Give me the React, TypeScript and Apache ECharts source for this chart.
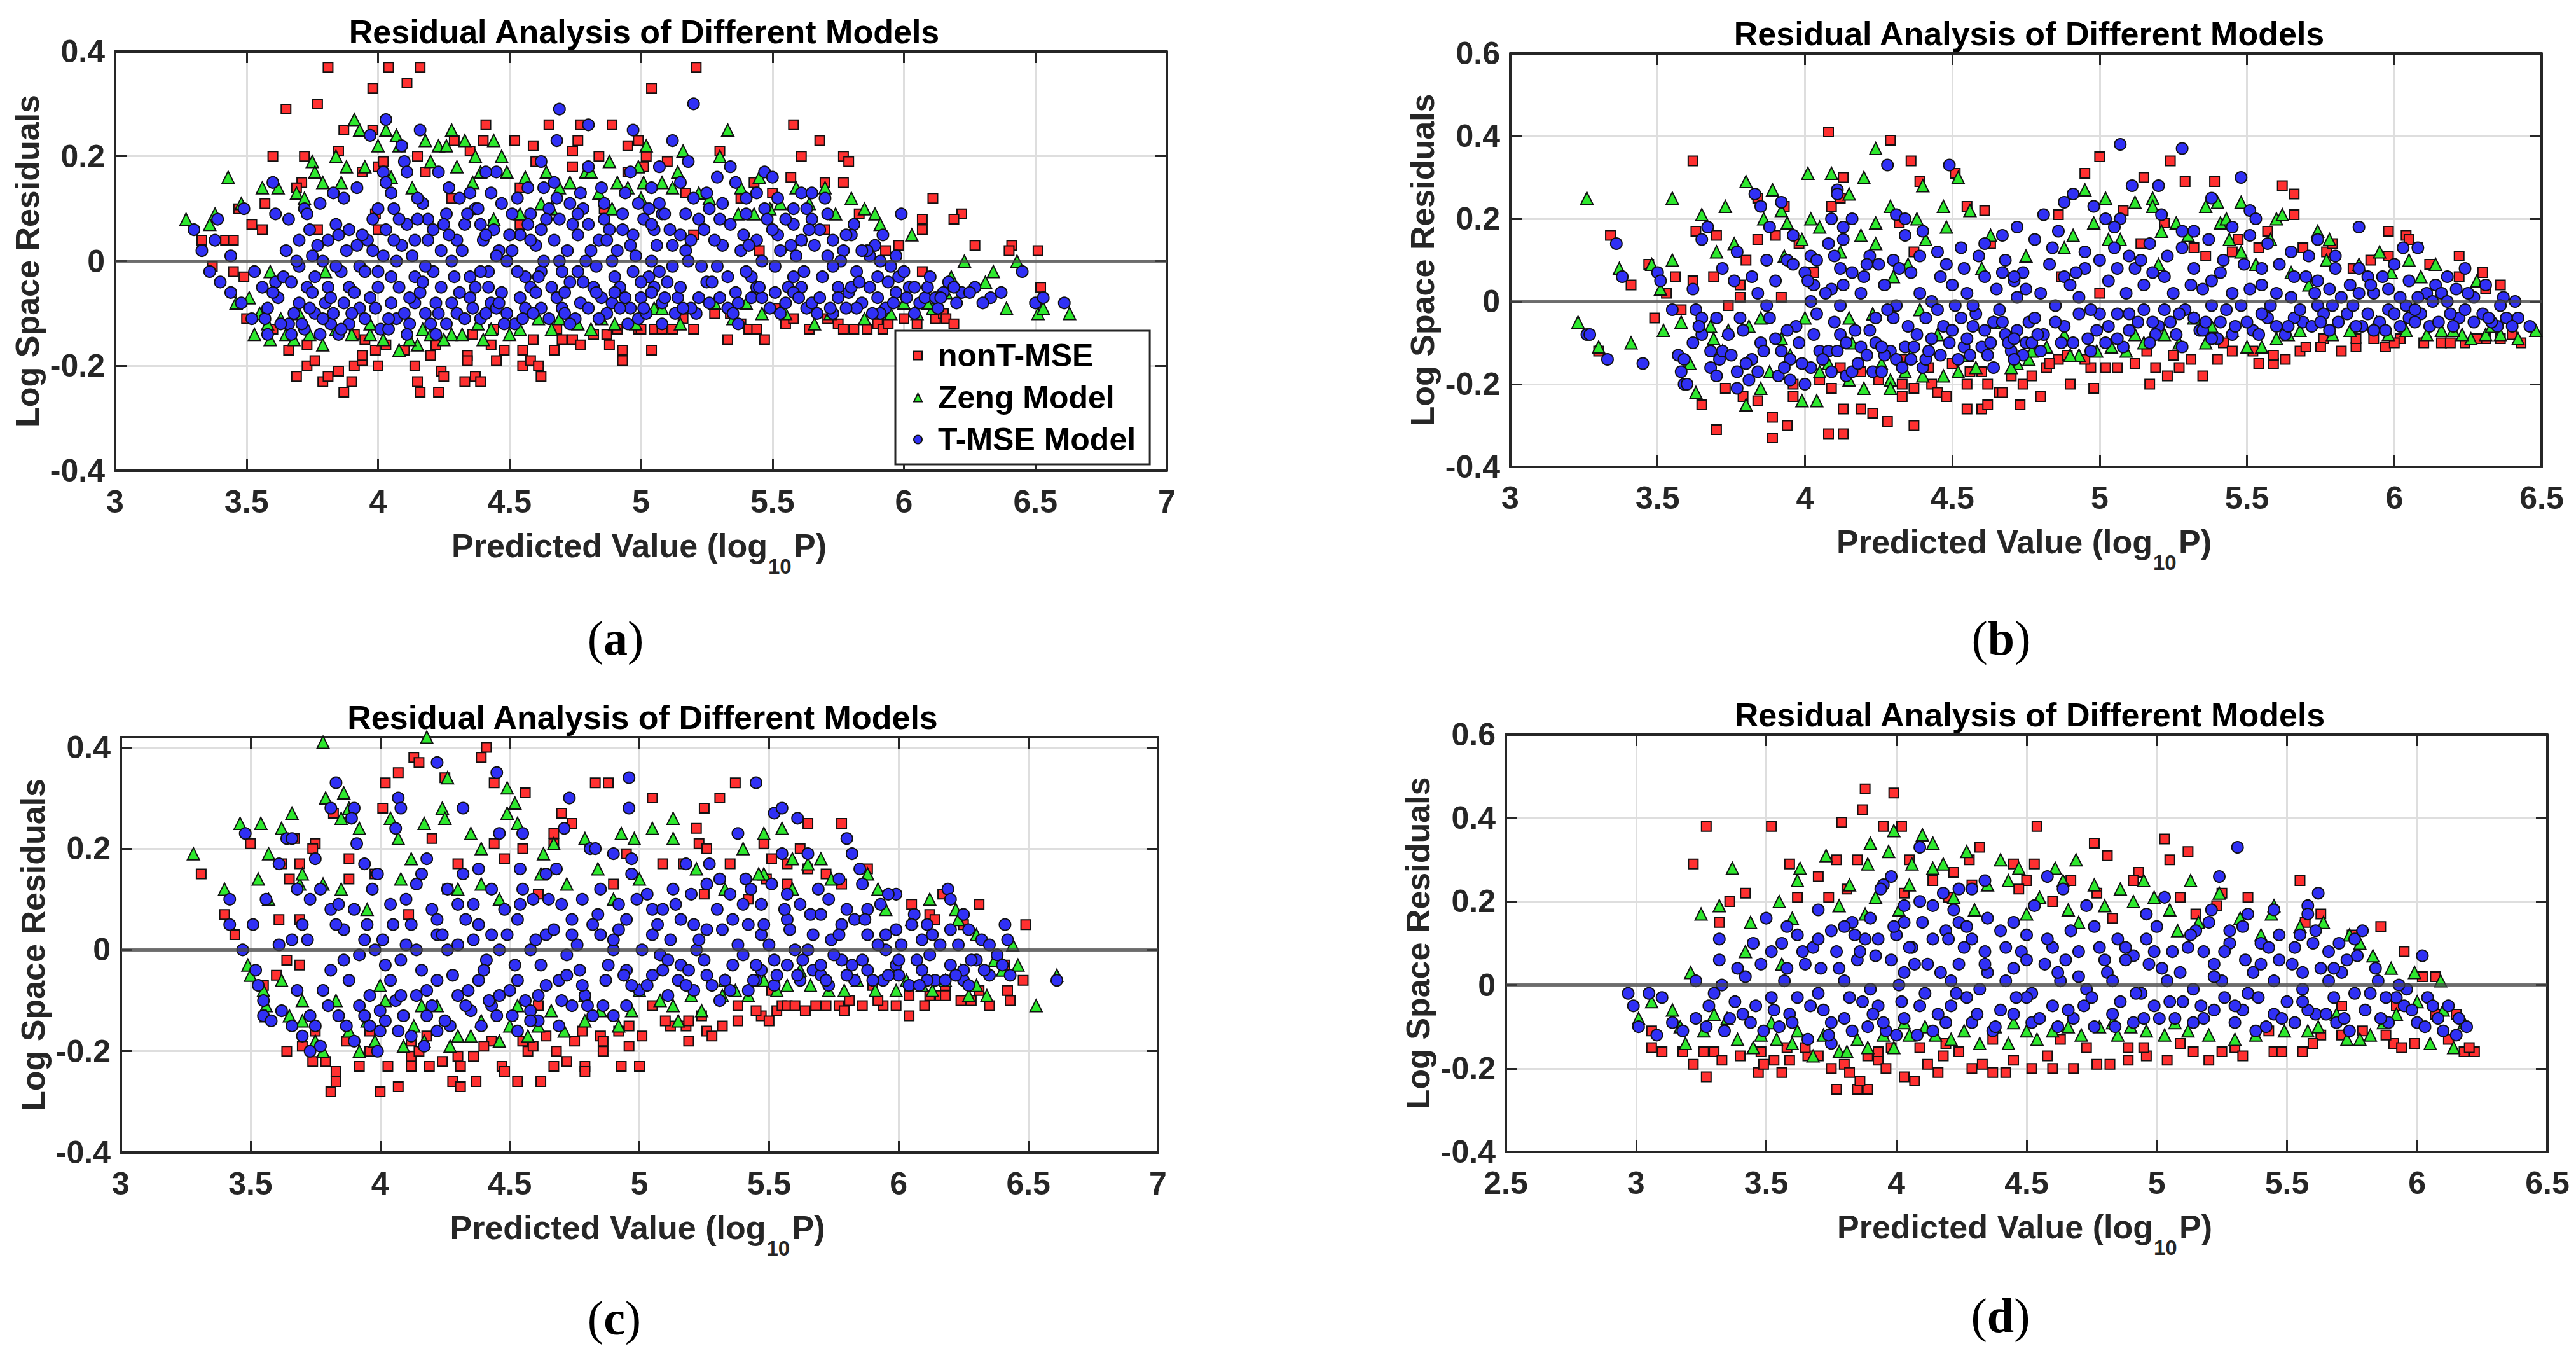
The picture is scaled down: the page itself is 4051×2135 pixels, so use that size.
import { useEffect, useRef } from "react";
import * as echarts from "echarts";

// residual points, flat lists of [predicted, residual] pairs
const aRed = [
  3.81,0.37, 4.04,0.37, 4.16,0.37, 3.98,0.33, 4.11,0.34, 3.65,0.29, 3.77,0.30, 5.04,0.33, 5.21,0.37, 3.87,0.25, 3.98,0.25,
  4.41,0.26, 4.65,0.26, 4.77,0.26, 4.89,0.26, 4.40,0.23, 4.52,0.23, 4.29,0.23, 4.76,0.23, 4.59,0.22, 4.35,0.21, 4.74,0.21,
  4.99,0.23, 5.02,0.20, 3.60,0.20, 3.72,0.20, 3.85,0.21, 4.00,0.18, 4.02,0.19, 3.94,0.17, 4.18,0.17, 3.71,0.15, 3.69,0.14,
  4.95,0.17, 5.01,0.18, 3.57,0.11, 3.47,0.10, 3.52,0.07, 3.56,0.06, 3.42,0.04, 3.45,0.04, 3.33,0.04, 3.77,0.06, 4.00,0.06,
  4.44,0.07, 4.54,0.07, 3.37,-0.01, 3.45,-0.02, 3.49,-0.03, 3.99,0.09, 4.54,0.14, 4.77,0.13, 4.74,0.18, 4.28,0.12, 4.86,0.10,
  5.20,0.05, 5.45,0.02, 5.70,0.06, 4.95,0.22, 5.10,0.19, 4.60,0.19, 4.15,0.20, 4.84,0.20, 5.50,0.13,
  3.50,-0.11, 3.66,-0.17, 3.73,-0.16, 3.69,-0.22, 3.73,-0.20, 3.76,-0.19, 3.79,-0.23, 3.81,-0.22, 3.85,-0.21, 3.87,-0.25,
  3.90,-0.23, 3.91,-0.20, 3.94,-0.19, 3.94,-0.18, 4.00,-0.20, 3.99,-0.17, 4.03,-0.16, 4.14,-0.20, 4.15,-0.23, 4.16,-0.25,
  4.23,-0.25, 4.24,-0.21, 4.25,-0.22, 4.33,-0.23, 4.34,-0.18, 4.34,-0.19, 4.37,-0.22, 4.39,-0.23, 4.43,-0.16, 4.45,-0.19,
  4.55,-0.20, 4.58,-0.19, 4.61,-0.20, 4.62,-0.22, 4.55,-0.17, 4.59,-0.15, 4.67,-0.17, 4.74,-0.15, 4.77,-0.16, 4.87,-0.14,
  4.88,-0.16, 4.93,-0.17, 4.93,-0.19, 4.91,-0.13, 5.04,-0.17, 5.05,-0.13, 4.99,-0.13, 4.68,-0.13, 4.44,-0.13, 4.36,-0.14,
  4.22,-0.16, 4.10,-0.17, 3.91,-0.14, 3.81,-0.11, 3.60,-0.13, 3.95,-0.15, 4.20,-0.18, 4.48,-0.17, 4.70,-0.15, 4.82,-0.14,
  5.20,-0.13, 5.38,-0.12, 5.55,-0.12, 5.75,-0.12, 5.90,-0.12, 6.05,-0.12, 6.12,-0.11,
  5.58,0.26, 5.68,0.23, 5.61,0.20, 5.77,0.20, 5.79,0.19, 5.30,0.21, 5.57,0.16, 5.70,0.15, 5.77,0.15, 5.43,0.15, 5.38,0.12,
  5.17,0.13, 6.11,0.12, 6.22,0.09, 6.19,0.08, 6.07,0.08, 6.07,0.06, 5.83,0.09, 5.98,0.03, 5.93,0.02, 6.27,0.03, 6.41,0.03,
  6.40,0.02, 6.51,0.02, 5.48,0.10, 5.61,0.04,
  5.33,-0.15, 5.47,-0.15, 5.41,-0.13, 5.44,-0.13, 5.08,-0.13, 5.12,-0.13, 5.00,-0.13, 5.16,-0.11, 5.28,-0.10, 5.34,-0.10,
  5.51,-0.09, 5.58,-0.11, 5.64,-0.13, 5.71,-0.11, 5.77,-0.13, 5.81,-0.13, 5.86,-0.13, 5.92,-0.13, 5.94,-0.12, 6.00,-0.11,
  6.15,-0.10, 6.16,-0.11, 6.19,-0.12, 6.52,-0.05, 6.07,-0.02,
];
const aGreen = [
  3.27,0.08, 3.38,0.09, 3.36,0.07, 3.43,0.16, 3.48,0.11, 3.56,0.14, 3.62,0.14, 3.69,0.13, 3.75,0.19, 3.76,0.17, 3.79,0.15,
  3.84,0.20, 3.88,0.18, 3.91,0.27, 3.93,0.25, 4.00,0.22, 4.03,0.25, 4.07,0.24, 4.08,0.22, 4.18,0.23, 4.23,0.22, 4.26,0.22,
  4.28,0.25, 4.33,0.23, 4.37,0.20, 4.44,0.23, 4.39,0.17, 4.49,0.17, 4.64,0.17, 4.73,0.15, 4.79,0.17, 4.81,0.17, 4.91,0.15,
  5.01,0.15, 5.02,0.22, 4.62,0.11, 4.66,0.10, 4.84,0.13, 4.89,0.10, 4.95,0.14, 5.00,0.12, 4.54,0.09, 4.44,0.08,
  3.72,0.12, 3.86,0.15, 3.95,0.18, 4.05,0.16, 4.13,0.14, 4.20,0.19, 4.30,0.18, 4.36,0.15, 4.47,0.20, 4.56,0.16, 4.69,0.14,
  4.88,0.19, 4.99,0.18, 5.14,0.17, 5.45,0.16, 5.64,0.11, 5.85,0.10,
  3.46,-0.08, 3.51,-0.07, 3.59,-0.15, 3.53,-0.14, 3.58,-0.12, 3.65,-0.14, 3.74,-0.14, 3.79,-0.16, 3.84,-0.13, 3.90,-0.14,
  3.97,-0.14, 4.08,-0.17, 4.15,-0.16, 4.12,-0.15, 4.17,-0.13, 4.28,-0.14, 4.32,-0.14, 4.43,-0.13, 4.54,-0.13, 4.61,-0.11,
  4.69,-0.11, 4.76,-0.12, 4.85,-0.11, 4.90,-0.12, 5.05,-0.09, 4.38,-0.12, 3.97,-0.12, 4.25,-0.15, 3.59,-0.02, 3.80,-0.02,
  3.70,-0.10, 3.55,-0.10, 3.63,-0.11, 3.68,-0.15, 4.02,-0.15, 4.20,-0.14, 4.40,-0.15, 4.50,-0.14, 4.66,-0.13, 4.81,-0.13,
  4.98,-0.12, 5.15,-0.12, 5.35,-0.11, 5.55,-0.10, 5.66,-0.12, 5.85,-0.11, 5.95,-0.10, 6.11,-0.09,
  5.33,0.25, 5.16,0.21, 5.30,0.20, 5.08,0.15, 5.12,0.14, 5.22,0.13, 5.26,0.12, 5.38,0.14, 5.53,0.11, 5.59,0.14, 5.70,0.14,
  5.80,0.12, 5.89,0.09, 5.91,0.07, 5.74,0.09, 5.43,0.09, 5.37,0.09, 5.49,0.10, 6.03,0.05, 6.23,0.00, 6.43,0.00, 6.34,-0.02,
  6.31,-0.04, 6.18,-0.03, 6.39,-0.09, 6.51,-0.10, 6.53,-0.09, 6.63,-0.10, 6.09,-0.08, 6.05,-0.10, 6.00,-0.08, 5.72,-0.10,
  5.46,-0.10, 5.40,-0.08, 5.28,-0.08, 5.08,-0.09, 6.16,-0.06,
];
const aBlue = [
  4.69,0.29, 4.03,0.27, 4.16,0.25, 4.80,0.26, 4.97,0.25, 3.97,0.24, 4.09,0.22, 4.10,0.19, 4.11,0.17, 4.68,0.23, 4.62,0.19,
  4.67,0.15, 5.07,0.18, 4.80,0.18, 4.96,0.17, 4.45,0.17, 4.41,0.17, 4.23,0.17, 4.02,0.17, 4.03,0.15, 3.92,0.14, 3.83,0.13,
  3.60,0.15, 3.72,0.10, 3.73,0.09, 3.61,0.09, 3.49,0.10, 3.39,0.08, 3.30,0.06, 3.33,0.02, 3.38,0.04, 3.44,0.01, 3.36,-0.02,
  3.40,-0.04, 3.44,-0.06, 3.48,-0.08, 3.53,-0.02, 3.56,-0.05, 3.52,-0.11, 3.58,-0.14, 3.57,-0.11, 3.61,-0.04, 3.66,-0.12,
  3.70,-0.08, 3.73,-0.05, 3.76,-0.03, 3.76,-0.10, 3.67,-0.14, 3.72,-0.13, 3.78,-0.14, 3.80,-0.08, 3.82,-0.12, 3.85,-0.14,
  3.89,-0.05, 3.89,-0.12, 3.93,-0.09, 3.97,-0.07, 4.01,-0.13, 4.04,-0.13, 4.07,-0.11, 4.12,-0.12, 4.08,-0.05, 4.14,-0.08,
  4.18,-0.10, 4.22,-0.08, 4.26,-0.12, 4.30,-0.10, 4.35,-0.07, 4.39,-0.11, 4.43,-0.08, 4.45,-0.09, 4.49,-0.10, 4.54,-0.07,
  4.58,-0.05, 4.62,-0.09, 4.68,-0.07, 4.70,-0.09, 4.73,-0.04, 4.77,-0.08, 4.80,-0.09, 4.85,-0.07, 4.89,-0.08, 4.92,-0.05,
  4.96,-0.09, 5.00,-0.07, 5.05,-0.05, 5.08,-0.08,
  3.70,0.04, 3.65,0.02, 3.81,0.04, 3.88,0.02, 3.89,0.06, 3.96,0.04, 3.98,0.08, 4.03,0.06, 4.06,0.10, 4.11,0.07, 4.14,0.04,
  4.17,0.11, 4.21,0.06, 4.26,0.09, 4.30,0.04, 4.33,0.07, 4.37,0.10, 4.40,0.04, 4.44,0.06, 4.47,0.11, 4.51,0.09, 4.54,0.05,
  4.58,0.09, 4.62,0.06, 4.67,0.04, 4.69,0.08, 4.73,0.11, 4.76,0.05, 4.80,0.07, 4.84,0.04, 4.88,0.06, 4.93,0.09, 4.97,0.05,
  5.01,0.08, 5.05,0.06, 5.08,0.09,
  3.70,-0.01, 3.79,0.00, 3.86,-0.02, 3.93,-0.01, 4.00,-0.02, 4.07,0.00, 4.14,-0.03, 4.21,-0.02, 4.28,0.00, 4.35,-0.03,
  4.42,-0.02, 4.49,0.00, 4.56,-0.03, 4.62,-0.02, 4.69,0.00, 4.76,-0.02, 4.83,-0.01, 4.90,-0.03, 4.97,-0.02, 5.04,0.00,
  3.62,-0.07, 3.68,-0.10, 3.75,-0.06, 3.83,-0.10, 3.87,-0.08, 3.95,-0.11, 4.00,-0.05, 4.05,-0.08, 4.10,-0.10, 4.16,-0.06,
  4.20,-0.12, 4.24,-0.05, 4.28,-0.08, 4.33,-0.11, 4.37,-0.05, 4.41,-0.10, 4.47,-0.06, 4.52,-0.12, 4.56,-0.09, 4.60,-0.06,
  4.65,-0.11, 4.71,-0.06, 4.75,-0.11, 4.82,-0.05, 4.87,-0.10, 4.94,-0.07, 4.99,-0.11, 5.03,-0.03, 5.13,-0.10, 5.25,-0.04,
  5.33,-0.09, 5.42,-0.03, 5.55,-0.08, 5.61,-0.05, 5.79,-0.06, 5.90,-0.07, 6.06,-0.08, 6.15,-0.06,
  3.75,0.01, 3.84,0.07, 3.92,0.03, 4.00,0.10, 4.09,0.03, 4.19,0.08, 4.24,0.02, 4.31,0.12, 4.39,0.07, 4.46,0.02, 4.53,0.12,
  4.60,0.03, 4.65,0.10, 4.72,0.02, 4.78,0.10, 4.86,0.08, 4.91,0.02, 4.99,0.11, 5.12,0.03, 5.20,0.12, 5.31,0.11, 5.38,0.02,
  5.47,0.10, 5.53,0.02, 5.58,0.07, 5.71,0.09, 5.77,0.02, 5.92,0.05, 5.95,-0.01,
  3.58,-0.09, 3.63,-0.12, 3.64,-0.03, 3.69,0.00, 3.71,-0.12, 3.74,0.06, 3.79,-0.11, 3.81,-0.05, 3.84,-0.01, 3.86,-0.13,
  3.91,-0.06, 3.94,0.05, 3.99,-0.09, 4.02,0.01, 4.05,-0.03, 4.08,0.08, 4.11,-0.14, 4.13,0.01, 4.17,-0.04, 4.19,0.04,
  4.23,-0.10, 4.25,0.07, 4.29,-0.03, 4.32,0.02, 4.36,-0.09, 4.38,0.10, 4.42,-0.05, 4.45,0.01, 4.48,-0.12, 4.50,0.05,
  4.53,-0.02, 4.57,0.07, 4.59,-0.10, 4.63,0.00, 4.66,-0.05, 4.68,0.12, 4.71,-0.10, 4.74,0.07, 4.78,-0.04, 4.81,0.02,
  4.84,-0.11, 4.87,0.04, 4.90,-0.06, 4.93,0.06, 4.95,-0.12, 4.98,0.01, 5.02,-0.10, 5.06,0.03, 5.10,-0.04, 5.11,0.06,
  5.14,-0.07, 5.17,0.02, 5.21,-0.10, 5.24,0.06, 5.27,-0.04, 5.31,0.03, 5.35,-0.10, 5.39,0.05, 5.42,-0.07, 5.46,0.00,
  5.49,-0.09, 5.52,0.05, 5.56,-0.05, 5.59,0.01, 5.63,-0.09, 5.66,0.03, 5.69,-0.03, 5.73,-0.10, 5.76,0.00, 5.80,-0.05,
  5.84,-0.08, 5.87,0.01, 5.90,-0.03, 5.93,-0.09, 5.98,-0.03, 6.02,-0.05, 6.08,-0.07, 6.13,-0.09, 6.17,-0.04, 3.66,0.08,
  3.78,0.11, 3.87,0.12, 4.05,0.13, 4.15,0.12, 4.27,0.14, 4.35,0.13, 4.43,0.13, 4.57,0.14, 4.63,0.14, 4.77,0.13, 4.85,0.14,
  4.94,0.13, 5.04,0.14, 5.15,0.15, 5.25,0.13, 5.40,0.12, 5.52,0.12, 5.61,0.13,
  5.20,0.30, 5.12,0.23, 5.18,0.19, 5.34,0.18, 5.29,0.16, 5.36,0.15, 5.47,0.17, 5.50,0.16, 5.44,0.13, 5.65,0.13, 5.70,0.12,
  5.58,0.10, 5.63,0.10, 5.65,0.08, 5.99,0.09, 5.81,0.07, 5.89,0.03, 5.86,0.02, 5.97,0.01, 5.80,0.05, 6.45,-0.02, 6.27,-0.05,
  6.33,-0.07, 6.37,-0.06, 6.22,-0.06, 6.19,-0.05, 6.50,-0.08, 6.53,-0.07, 6.61,-0.08, 6.12,-0.07, 6.09,-0.05, 6.04,-0.05,
  6.01,-0.07, 5.97,-0.06, 5.91,-0.10, 5.82,-0.09, 5.78,-0.09, 5.72,-0.09, 5.65,-0.08, 5.58,-0.06, 5.51,-0.06, 5.44,-0.05,
  5.36,-0.06, 5.30,-0.07, 5.22,-0.07, 5.15,-0.05, 5.09,-0.07, 5.04,-0.06, 5.01,-0.09, 5.19,-0.09, 5.37,-0.08, 5.46,-0.07,
  5.58,-0.03, 5.68,-0.07, 5.75,-0.05, 5.87,-0.05, 5.94,-0.04, 5.82,-0.02, 5.73,-0.01, 5.62,-0.02, 5.51,-0.01, 5.40,-0.02,
  5.29,-0.01, 5.18,0.00, 5.07,-0.02,
  5.04,0.07, 5.09,0.09, 5.15,0.05, 5.22,0.08, 5.28,0.04, 5.34,0.07, 5.40,0.09, 5.44,0.04, 5.50,0.06, 5.55,0.08, 5.61,0.04,
  5.68,0.06, 5.73,0.04, 5.84,0.02, 5.07,0.11, 5.26,0.10, 5.17,0.09,
];
// extra T-MSE points inside the dense band of (a)
const aBlueCore = [
  3.60,-0.06, 3.67,-0.04, 3.74,-0.09, 3.77,0.03, 3.82,-0.07, 3.85,0.05, 3.90,-0.10, 3.95,-0.02, 3.98,0.02, 4.04,-0.11,
  4.06,0.04, 4.12,-0.07, 4.15,0.08, 4.18,-0.01, 4.22,-0.14, 4.27,0.05, 4.31,-0.06, 4.34,0.09, 4.39,-0.02, 4.41,0.05,
  4.46,-0.08, 4.51,0.02, 4.55,-0.11, 4.58,0.04, 4.61,-0.03, 4.64,0.08, 4.70,-0.02, 4.73,-0.12, 4.76,0.09, 4.79,0.00,
  4.83,-0.06, 4.86,0.11, 4.89,0.00, 4.92,-0.09, 4.96,0.03, 5.00,-0.04, 5.03,0.10, 5.08,-0.12, 5.12,-0.01, 5.16,-0.09,
  5.19,0.04, 5.23,-0.01, 5.26,-0.08, 5.30,0.08, 5.33,-0.03, 5.37,-0.12, 5.41,0.03, 5.45,-0.05, 5.48,0.08, 5.53,-0.10,
  5.57,0.03, 5.60,-0.07, 5.64,0.06, 5.67,-0.10, 5.71,0.01, 5.75,-0.07, 5.78,0.05, 5.83,-0.04, 5.88,-0.10, 5.91,0.00,
  5.96,-0.08, 6.00,-0.02, 6.04,-0.10, 6.10,-0.03, 6.14,-0.07, 6.20,-0.08, 6.25,-0.06, 6.30,-0.08,
];

const bRed = [
  4.08,0.41, 4.29,0.39, 3.62,0.34, 4.36,0.34, 4.13,0.30, 4.39,0.29, 4.51,0.31, 4.09,0.23, 4.12,0.25, 3.84,0.25, 3.93,0.23,
  4.61,0.22, 4.55,0.23, 3.34,0.16, 3.63,0.17, 3.70,0.16, 3.84,0.15, 3.90,0.16, 4.32,0.19, 3.98,0.14, 4.63,0.14, 3.47,0.09,
  3.56,0.06, 3.69,0.06, 3.41,0.04, 3.62,0.05, 3.53,0.02, 3.80,0.10, 3.78,0.04, 3.78,0.01, 3.74,-0.01, 3.92,0.01, 4.03,0.07,
  4.37,0.12,
  3.49,-0.04, 3.58,-0.02, 3.30,-0.12, 3.73,-0.21, 3.79,-0.23, 3.84,-0.24, 3.65,-0.25, 3.70,-0.31, 3.89,-0.28, 3.94,-0.30,
  3.89,-0.33, 3.96,-0.23, 4.08,-0.32, 4.13,-0.32, 4.05,-0.19, 4.09,-0.21, 4.13,-0.26, 4.19,-0.26, 4.23,-0.27, 4.28,-0.29,
  4.33,-0.23, 4.33,-0.20, 4.37,-0.21, 4.37,-0.30, 4.43,-0.20, 4.45,-0.22, 4.48,-0.23, 4.55,-0.26, 4.60,-0.26, 4.62,-0.25,
  4.55,-0.20, 4.62,-0.20, 4.66,-0.22, 4.73,-0.25, 4.74,-0.20, 4.19,-0.17, 4.12,-0.16, 3.96,-0.20, 4.34,-0.14, 4.60,-0.17,
  4.50,-0.15, 4.25,-0.19, 4.42,-0.16, 4.56,-0.17, 4.70,-0.18,
  5.00,0.35, 5.24,0.34, 4.95,0.31, 5.15,0.30, 5.29,0.29, 5.39,0.29, 5.62,0.28, 5.66,0.26, 5.66,0.21, 5.57,0.17, 5.08,0.22,
  4.86,0.21, 5.22,0.19, 5.98,0.17, 6.04,0.16, 6.05,0.15, 6.08,0.13, 6.22,0.11, 5.92,0.10, 5.98,0.11, 5.77,0.12, 5.69,0.13,
  5.32,0.13, 5.36,0.11, 6.22,0.06, 6.36,0.04, 6.31,0.03, 5.86,0.08, 5.54,0.13, 5.45,0.12, 5.00,0.02, 4.87,0.06, 5.14,0.14,
  5.47,0.15, 5.79,0.14, 6.12,0.09, 6.30,0.07,
  4.80,-0.23, 4.77,-0.18, 4.82,-0.16, 4.90,-0.20, 4.98,-0.21, 4.97,-0.16, 5.02,-0.16, 5.06,-0.16, 5.12,-0.15, 5.17,-0.20,
  5.19,-0.16, 5.23,-0.18, 5.27,-0.16, 5.31,-0.14, 5.35,-0.18, 5.40,-0.14, 5.42,-0.10, 5.16,-0.12, 5.54,-0.15, 5.59,-0.15,
  5.63,-0.14, 5.59,-0.13, 5.68,-0.12, 5.70,-0.11, 5.82,-0.12, 5.87,-0.11, 5.93,-0.09, 5.97,-0.11, 6.02,-0.09, 6.10,-0.10,
  6.16,-0.10, 6.19,-0.10, 6.24,-0.10, 6.31,-0.09, 6.36,-0.09, 6.43,-0.10, 5.87,-0.09, 5.76,-0.09, 4.86,-0.14, 4.89,-0.13,
  4.83,-0.15, 4.67,-0.22, 4.95,-0.14, 5.25,-0.13, 5.45,-0.12, 5.52,-0.12, 5.75,-0.11, 6.00,-0.10, 6.28,-0.09, 6.40,-0.08,
];
const bGreen = [
  3.26,0.25, 3.55,0.25, 3.80,0.29, 3.89,0.27, 3.73,0.23, 3.65,0.21, 3.70,0.12, 3.55,0.10, 3.37,0.08, 3.48,0.09, 3.51,0.03,
  3.76,0.14, 3.92,0.22, 3.94,0.19, 3.86,0.20, 4.01,0.31, 4.09,0.31, 4.20,0.30, 4.24,0.37, 4.15,0.26, 4.29,0.23, 4.38,0.20,
  4.40,0.28, 4.47,0.23, 4.52,0.30, 4.56,0.22, 4.24,0.19, 4.02,0.20, 4.05,0.18, 4.19,0.16, 4.41,0.15, 4.48,0.18, 4.63,0.16,
  3.99,0.15, 4.24,0.14, 3.93,0.11, 4.30,0.06, 4.60,0.08, 4.75,0.11, 4.88,0.13, 4.35,0.09, 4.12,0.12,
  3.23,-0.05, 3.30,-0.11, 3.41,-0.10, 3.52,-0.07, 3.68,-0.06, 3.69,-0.09, 3.74,-0.07, 3.81,-0.06, 3.61,-0.15, 3.63,-0.22,
  3.80,-0.25, 3.85,-0.21, 3.99,-0.24, 4.04,-0.24, 4.20,-0.21, 4.29,-0.19, 4.29,-0.21, 4.15,-0.19, 4.05,-0.17, 4.34,-0.17,
  4.40,-0.18, 4.47,-0.18, 4.52,-0.17, 4.58,-0.16, 4.71,-0.15, 4.76,-0.14, 3.92,-0.09, 4.00,-0.04, 3.85,-0.04, 4.15,-0.04,
  4.39,-0.02, 4.64,-0.05, 4.23,-0.03, 4.45,-0.08, 4.16,-0.10, 3.58,-0.05, 3.72,-0.12, 3.88,-0.17, 3.95,-0.13, 4.08,-0.15,
  4.26,-0.15, 4.36,-0.13, 4.55,-0.13, 4.62,-0.10, 4.82,-0.11, 4.88,-0.08,
  4.95,0.27, 5.02,0.25, 5.12,0.24, 5.18,0.25, 5.18,0.23, 5.36,0.23, 5.40,0.24, 4.98,0.19, 4.91,0.16, 5.07,0.15, 5.03,0.15,
  5.21,0.17, 5.26,0.19, 5.30,0.16, 5.41,0.19, 5.43,0.20, 5.44,0.15, 5.48,0.24, 5.60,0.20, 5.62,0.21, 5.58,0.15, 5.74,0.17,
  5.78,0.15, 5.95,0.12, 6.14,0.09, 6.28,0.05, 6.09,0.06, 5.99,0.07, 5.71,0.04, 5.53,0.09, 5.65,0.07, 5.77,0.10, 5.20,0.09,
  5.48,0.12, 5.88,0.09, 6.05,0.10,
  6.42,-0.09, 6.48,-0.07, 6.36,-0.08, 6.31,-0.08, 6.26,-0.09, 6.23,-0.08, 6.16,-0.07, 6.11,-0.08, 6.04,-0.07, 5.98,-0.08,
  5.94,-0.05, 5.79,-0.08, 5.64,-0.08, 5.60,-0.09, 5.55,-0.11, 5.50,-0.11, 5.36,-0.10, 5.38,-0.06, 5.32,-0.04, 5.27,-0.10,
  5.15,-0.10, 5.09,-0.12, 5.04,-0.11, 4.99,-0.12, 4.93,-0.13, 4.90,-0.13, 4.77,-0.12, 4.72,-0.15, 4.70,-0.16, 5.12,-0.08,
  5.22,-0.08, 5.45,-0.07, 5.68,-0.07, 5.85,-0.07, 6.20,-0.07, 6.33,-0.06,
];
const bBlue = [
  4.28,0.33, 4.49,0.33, 4.11,0.27, 4.11,0.26, 3.83,0.26, 3.92,0.24, 3.85,0.23, 4.31,0.21, 4.34,0.20, 3.67,0.18, 3.65,0.15,
  3.36,0.14, 4.16,0.20, 4.09,0.20, 4.13,0.18, 3.88,0.18, 3.96,0.16, 4.34,0.16, 4.40,0.17, 4.67,0.16, 4.72,0.18, 4.08,0.14,
  4.13,0.15, 3.77,0.12, 4.02,0.11, 4.10,0.11, 4.45,0.12, 4.39,0.11, 4.53,0.13, 4.61,0.14, 3.87,0.10, 3.94,0.10, 3.96,0.09,
  4.04,0.10, 4.12,0.08, 4.16,0.07, 4.22,0.11, 4.25,0.09, 4.36,0.07, 4.46,0.06, 4.54,0.08, 4.61,0.06, 4.68,0.10, 3.38,0.06,
  3.50,0.07, 3.51,0.05, 3.76,0.05, 3.82,0.06, 3.84,0.02, 3.62,0.03, 4.03,0.04, 4.09,0.03, 4.27,0.04, 4.19,0.02, 4.50,0.04,
  4.71,0.05, 4.07,0.02, 4.20,0.06, 4.30,0.10, 4.00,0.07, 3.90,0.05, 3.72,0.08,
  3.26,-0.08, 3.27,-0.08, 3.33,-0.14, 3.45,-0.15, 3.55,-0.02, 3.63,-0.02, 3.65,-0.04, 3.65,-0.08, 3.57,-0.13, 3.59,-0.14,
  3.59,-0.20, 3.60,-0.20, 3.68,-0.12, 3.68,-0.16, 3.71,-0.14, 3.70,-0.04, 3.78,-0.04, 3.72,-0.12, 3.77,-0.17, 3.81,-0.19,
  3.77,-0.21, 3.82,-0.14, 3.85,-0.10, 3.88,-0.04, 3.90,-0.09, 3.92,-0.12, 3.91,-0.18, 3.95,-0.14, 3.95,-0.19, 3.98,-0.10,
  4.00,-0.20, 4.02,-0.16, 4.03,-0.08, 4.05,-0.12, 4.08,-0.12, 4.11,-0.12, 4.12,-0.08, 4.14,-0.18, 4.16,-0.17, 4.19,-0.11,
  4.21,-0.13, 4.23,-0.17, 4.24,-0.10, 4.24,-0.04, 4.29,-0.12, 4.27,-0.13, 4.31,-0.14, 4.34,-0.11, 4.35,-0.06, 4.37,-0.11,
  4.40,-0.16, 4.41,-0.14, 4.41,-0.04, 4.46,-0.13, 4.47,-0.06, 4.50,-0.07, 4.53,-0.04, 4.54,-0.11, 4.56,-0.13, 4.58,-0.03,
  4.60,-0.11, 4.61,-0.07, 4.64,-0.16, 4.64,-0.05, 4.68,-0.08, 4.70,-0.12, 4.72,-0.07, 4.76,-0.05, 4.75,-0.10, 4.02,0.00,
  4.12,-0.01, 4.31,-0.01, 4.43,0.00, 4.57,-0.01, 4.72,0.01,
  3.62,-0.10, 3.74,-0.08, 3.80,-0.15, 3.86,-0.12, 3.93,-0.16, 3.97,-0.06, 4.06,-0.14, 4.10,-0.05, 4.14,-0.10, 4.18,-0.15,
  4.22,-0.07, 4.26,-0.11, 4.30,-0.04, 4.33,-0.16, 4.38,-0.08, 4.42,-0.12, 4.45,-0.02, 4.49,-0.10, 4.52,-0.14, 4.57,-0.06,
  4.62,-0.13, 4.66,-0.02, 4.69,-0.10, 4.74,-0.13, 4.78,-0.04, 4.80,-0.12, 4.88,-0.06, 4.93,-0.03, 4.97,-0.12, 5.03,-0.06,
  5.08,-0.11, 5.15,-0.02, 5.20,-0.06, 5.28,-0.11, 5.32,-0.04, 5.40,-0.09, 5.43,-0.02, 5.52,-0.07, 5.57,-0.04, 5.63,-0.08,
  5.69,-0.05, 5.74,-0.01, 5.78,-0.07, 5.84,-0.03, 5.89,-0.06, 5.98,-0.02, 6.02,-0.06, 6.12,-0.06, 6.22,-0.04, 6.30,-0.03,
  6.35,-0.06, 6.42,-0.04,
  5.07,0.38, 5.28,0.37, 5.48,0.30, 5.11,0.28, 5.20,0.28, 5.38,0.25, 4.91,0.26, 4.88,0.24, 4.98,0.23, 5.51,0.22, 4.81,0.21,
  5.02,0.20, 5.07,0.20, 5.21,0.21, 5.53,0.20, 5.88,0.18, 4.86,0.17, 5.05,0.18, 5.28,0.17, 5.32,0.17, 5.37,0.15, 5.45,0.18,
  5.51,0.16, 5.74,0.15, 6.08,0.13, 6.03,0.13, 4.78,0.15, 4.84,0.13, 4.95,0.12, 5.00,0.10, 5.28,0.13, 5.49,0.09, 5.57,0.14,
  5.65,0.12, 5.71,0.11, 5.61,0.09, 5.10,0.11, 5.12,0.08, 5.18,0.07, 5.23,0.11, 5.32,0.08, 5.38,0.05, 5.88,0.08, 5.80,0.08,
  5.96,0.06, 6.24,0.08, 6.05,0.05, 5.73,0.02, 5.66,0.06, 5.91,0.06, 6.14,0.04, 6.37,0.01, 6.41,0.00, 5.03,0.05, 4.88,0.06,
  4.74,0.07, 4.71,0.06, 5.09,0.02, 5.74,0.05, 5.85,0.04, 5.93,0.02, 6.11,0.02, 6.21,0.03, 6.31,0.04, 4.93,0.01,
  4.55,0.02, 4.65,0.03, 4.80,0.02, 4.90,0.04, 5.15,0.04, 5.25,0.02, 5.35,0.03, 5.45,0.02, 5.55,0.04, 5.65,0.01, 5.78,0.03,
  5.88,0.02, 5.98,0.03, 6.08,0.01, 6.16,0.02, 6.27,0.01, 4.95,0.08, 5.05,0.13, 5.17,0.14, 5.42,0.10, 5.55,0.08, 5.80,0.11,
  6.00,0.09, 6.18,0.06,
  4.67,-0.05, 4.71,-0.09, 4.77,-0.10, 4.81,-0.08, 4.85,-0.05, 4.91,-0.10, 4.96,-0.09, 4.99,-0.07, 5.00,-0.03, 5.06,-0.09,
  5.10,-0.07, 5.13,-0.05, 5.19,-0.08, 5.24,-0.05, 5.29,-0.02, 5.26,-0.08, 5.34,-0.07, 5.35,-0.07, 5.41,-0.05, 5.45,-0.08,
  5.50,-0.05, 5.55,-0.03, 5.60,-0.06, 5.66,-0.04, 5.72,-0.06, 5.76,-0.03, 5.81,-0.05, 5.86,-0.01, 5.91,-0.03, 5.95,-0.05,
  6.00,-0.03, 6.05,-0.04, 6.09,-0.03, 6.15,-0.05, 6.19,-0.03, 6.24,-0.02, 6.27,-0.05, 6.33,-0.05, 6.38,-0.04, 6.46,-0.06,
  5.38,-0.01, 5.48,-0.01, 5.58,-0.01, 5.68,-0.02, 5.79,-0.01, 6.04,-0.01, 6.18,0.00, 5.22,-0.02, 5.06,-0.03, 4.85,-0.01,
  6.07,-0.05, 5.93,-0.07, 5.17,-0.10, 5.38,-0.09,
];
const bBlueCore = [
  3.58,-0.17, 3.64,-0.06, 3.70,-0.18, 3.75,-0.13, 3.79,-0.07, 3.84,-0.17, 3.87,-0.01, 3.94,-0.07, 3.99,-0.15, 4.01,0.05,
  4.04,-0.03, 4.09,-0.17, 4.13,0.04, 4.17,-0.07, 4.21,0.09, 4.26,-0.17, 4.28,-0.02, 4.32,0.08, 4.36,-0.14, 4.39,0.02,
  4.43,-0.09, 4.48,0.09, 4.51,-0.01, 4.55,-0.09, 4.59,0.11, 4.63,-0.10, 4.67,0.07, 4.71,-0.14, 4.75,0.03, 4.79,-0.08,
  4.83,0.09, 4.87,-0.10, 4.92,0.07, 4.97,-0.02, 5.02,-0.10, 5.06,0.08, 5.10,-0.03, 5.14,0.10, 5.18,-0.05, 5.22,0.06,
  5.27,-0.03, 5.31,0.04, 5.36,-0.05, 5.41,0.07, 5.46,-0.06, 5.51,0.03, 5.54,-0.08, 5.60,0.02, 5.64,-0.06, 5.70,0.06,
  5.75,-0.05, 5.82,0.01, 5.87,-0.06, 5.92,0.04, 5.97,-0.07, 6.02,0.01, 6.07,-0.02, 6.13,0.00, 6.20,-0.06, 6.25,0.02,
  6.32,-0.04, 6.36,-0.01, 6.40,-0.06,
];

const cRed = [
  4.13,0.38, 4.15,0.37, 4.41,0.40, 4.39,0.38, 4.07,0.35, 4.25,0.34, 4.02,0.33, 4.44,0.33, 4.56,0.31, 4.83,0.33, 4.88,0.33,
  5.37,0.33, 5.05,0.30, 5.31,0.30, 5.25,0.28, 4.70,0.27, 4.74,0.25, 5.65,0.25, 5.78,0.25, 5.22,0.24, 3.82,0.27, 4.01,0.28,
  5.62,0.20, 5.48,0.21, 5.51,0.18, 5.23,0.21, 5.26,0.20, 5.17,0.17, 5.09,0.17, 4.44,0.21, 4.48,0.18, 4.67,0.23, 4.67,0.21,
  3.75,0.21, 3.69,0.17, 3.67,0.22, 3.50,0.21, 3.31,0.15, 3.74,0.20, 3.62,0.17, 3.65,0.14, 3.88,0.14, 4.30,0.17, 3.98,0.15,
  4.26,0.12, 5.88,0.16, 5.78,0.13, 5.65,0.16, 5.57,0.17, 5.57,0.13, 6.17,0.11, 6.31,0.09, 6.49,0.05, 6.12,0.07, 6.14,0.06,
  5.49,0.14, 5.42,0.10, 3.44,0.03, 3.61,0.06, 3.69,0.06, 3.40,0.07, 4.11,0.07, 4.61,0.11, 4.90,0.13, 5.25,0.11, 3.88,0.18,
  4.20,0.22, 4.55,0.20, 4.95,0.19, 5.35,0.17, 5.72,0.15, 6.05,0.09, 6.25,0.05,
  3.64,-0.02, 3.60,-0.05, 3.55,-0.07, 3.69,-0.03, 3.64,-0.20, 3.74,-0.22, 3.79,-0.22, 3.83,-0.24, 3.83,-0.26, 3.81,-0.28,
  4.00,-0.28, 4.07,-0.27, 4.03,-0.23, 3.96,-0.20, 4.12,-0.21, 4.12,-0.23, 4.19,-0.23, 4.24,-0.22, 4.28,-0.26, 4.31,-0.27,
  4.37,-0.26, 4.31,-0.23, 4.36,-0.21, 4.47,-0.23, 4.48,-0.24, 4.53,-0.26, 4.62,-0.26, 4.57,-0.20, 4.68,-0.20, 4.72,-0.22,
  4.67,-0.23, 4.79,-0.23, 4.79,-0.24, 4.86,-0.20, 4.85,-0.17, 4.93,-0.23, 5.00,-0.23, 4.96,-0.19, 5.01,-0.17, 4.86,-0.18,
  4.64,-0.17, 4.59,-0.19, 5.19,-0.18, 5.18,-0.15, 5.12,-0.15, 5.19,-0.14, 5.26,-0.16, 5.28,-0.17, 5.32,-0.15, 5.38,-0.14,
  5.38,-0.11, 5.47,-0.13, 5.50,-0.14, 5.53,-0.12, 5.55,-0.11, 5.64,-0.12, 5.68,-0.11, 5.72,-0.11, 5.77,-0.11, 5.81,-0.10,
  5.79,-0.12, 5.86,-0.11, 5.94,-0.11, 6.04,-0.13, 5.99,-0.11, 6.10,-0.11, 6.16,-0.09, 6.18,-0.09, 6.24,-0.10, 6.28,-0.10,
  6.35,-0.11, 6.43,-0.10, 6.42,-0.08, 6.41,-0.03, 6.31,-0.08, 6.18,-0.07, 5.05,-0.11, 4.96,-0.15, 4.43,-0.18, 4.30,-0.21,
  4.18,-0.17, 4.12,-0.18, 3.87,-0.18, 3.75,-0.16, 3.96,-0.16, 4.61,-0.11, 4.78,-0.16, 5.51,-0.08, 5.57,-0.11, 6.04,-0.09,
  5.90,-0.07, 3.70,-0.19, 3.92,-0.23, 4.15,-0.20, 4.40,-0.19, 4.55,-0.18, 4.75,-0.18, 4.92,-0.16, 5.10,-0.14, 5.24,-0.13,
  5.45,-0.12, 5.60,-0.11, 5.92,-0.10, 6.12,-0.09, 6.48,-0.06,
];
const cGreen = [
  3.78,0.41, 4.18,0.42, 4.26,0.34, 3.86,0.31, 3.79,0.30, 3.66,0.27, 3.46,0.25, 3.54,0.25, 3.62,0.24, 3.28,0.19, 3.57,0.19,
  3.40,0.12, 3.53,0.14, 3.57,0.10, 3.69,0.13, 3.70,0.15, 3.78,0.13, 3.85,0.12, 3.85,0.26, 3.92,0.24, 3.88,0.28, 4.04,0.26,
  4.07,0.22, 4.12,0.18, 4.17,0.25, 4.24,0.28, 4.25,0.26, 4.35,0.23, 4.39,0.20, 4.49,0.32, 4.52,0.29, 4.49,0.27, 4.53,0.25,
  4.63,0.19, 4.67,0.21, 4.79,0.22, 4.93,0.23, 4.98,0.22, 5.05,0.24, 5.13,0.26, 5.13,0.22, 5.40,0.20, 5.48,0.23, 5.55,0.24,
  5.48,0.15, 5.46,0.15, 5.59,0.18, 5.70,0.18, 5.65,0.17, 5.88,0.15, 5.92,0.12, 6.05,0.06, 6.22,0.08, 6.23,0.06, 6.44,0.01,
  5.59,0.12, 4.39,0.13, 4.90,0.10, 4.62,0.15, 3.95,0.08, 4.08,0.14, 4.30,0.12, 4.46,0.10, 4.72,0.13, 4.84,0.16, 5.00,0.14,
  5.22,0.16, 5.33,0.12, 5.74,0.14, 5.95,0.08, 6.12,0.10, 6.30,0.03,
  3.49,-0.03, 3.50,-0.05, 3.55,-0.08, 3.56,-0.11, 3.56,-0.13, 3.65,-0.13, 3.70,-0.10, 3.75,-0.18, 3.78,-0.20, 3.92,-0.20,
  3.83,-0.10, 3.95,-0.14, 4.02,-0.10, 4.09,-0.19, 4.17,-0.18, 4.27,-0.19, 4.30,-0.17, 4.39,-0.14, 4.46,-0.18, 4.57,-0.17,
  4.61,-0.15, 4.71,-0.16, 4.79,-0.14, 4.92,-0.15, 5.13,-0.11, 5.15,-0.14, 5.24,-0.12, 5.32,-0.09, 5.42,-0.09, 5.53,-0.08,
  5.57,-0.07, 5.73,-0.08, 5.79,-0.08, 5.91,-0.08, 5.99,-0.08, 6.09,-0.07, 6.18,-0.06, 6.27,-0.09, 6.34,-0.09, 6.40,-0.04,
  6.46,-0.03, 6.53,-0.11, 6.61,-0.05, 6.24,-0.04, 5.62,-0.04, 5.33,-0.06, 5.00,-0.08, 4.79,-0.09, 4.53,-0.11, 4.16,-0.11,
  4.00,-0.07, 3.62,-0.06, 3.70,-0.14, 3.88,-0.16, 3.98,-0.18, 4.13,-0.15, 4.22,-0.11, 4.35,-0.17, 4.50,-0.15, 4.66,-0.12,
  4.85,-0.12, 4.97,-0.12, 5.08,-0.10, 5.20,-0.09, 5.37,-0.08, 5.48,-0.06, 5.66,-0.07, 5.84,-0.06, 6.03,-0.06, 6.13,-0.08,
  6.30,-0.07, 6.37,-0.02,
];
const cBlue = [
  4.22,0.37, 4.45,0.35, 4.96,0.34, 5.45,0.33, 3.83,0.33, 4.73,0.30, 4.07,0.30, 4.08,0.28, 4.32,0.28, 3.90,0.28, 3.81,0.28,
  4.96,0.28, 5.52,0.27, 5.55,0.28, 5.61,0.26, 4.71,0.24, 5.80,0.22, 3.48,0.23, 3.64,0.22, 3.66,0.22, 3.89,0.26, 3.91,0.21,
  4.06,0.24, 4.46,0.23, 4.55,0.23, 5.38,0.23, 5.82,0.19, 4.81,0.20, 4.90,0.19, 4.97,0.18, 5.18,0.17, 5.55,0.19, 5.65,0.19,
  5.85,0.16, 6.19,0.12, 5.99,0.11, 6.41,0.05, 6.42,0.02, 3.61,0.17, 3.75,0.18, 3.94,0.17, 3.99,0.15, 4.18,0.18, 4.16,0.15,
  4.14,0.13, 4.32,0.15, 4.38,0.16, 4.54,0.16, 4.64,0.15, 4.68,0.16, 4.83,0.20, 4.97,0.15, 5.27,0.17, 5.41,0.14, 5.51,0.13,
  5.77,0.14, 5.86,0.13, 5.96,0.11, 6.20,0.10, 3.42,0.10, 3.56,0.10, 3.68,0.12, 3.73,0.10, 3.81,0.08, 3.42,0.05, 3.51,0.05,
  3.47,0.00, 3.61,0.01, 3.66,0.02, 3.95,0.05, 4.04,0.09, 4.30,0.09, 4.43,0.12, 4.59,0.10, 4.78,0.10, 4.85,0.12, 5.03,0.11,
  5.13,0.12, 5.26,0.13, 5.35,0.11, 5.47,0.09, 5.62,0.09, 5.73,0.10, 5.88,0.08, 6.06,0.07, 6.32,0.02, 6.27,0.04,
  3.52,-0.04, 3.53,-0.07, 3.55,-0.13, 3.58,-0.14, 3.66,-0.15, 3.70,-0.17, 3.73,-0.13, 3.73,-0.20, 3.77,-0.19, 3.90,-0.18,
  3.96,-0.15, 3.99,-0.20, 4.07,-0.16, 4.09,-0.13, 4.17,-0.19, 4.22,-0.16, 4.27,-0.15, 4.39,-0.15, 4.43,-0.11, 4.51,-0.13,
  4.53,-0.16, 4.61,-0.14, 4.69,-0.15, 4.74,-0.11, 4.82,-0.13, 4.90,-0.13, 4.95,-0.11, 4.79,-0.09, 5.11,-0.09, 5.21,-0.08,
  5.31,-0.10, 5.42,-0.08, 5.52,-0.07, 5.62,-0.06, 5.73,-0.07, 5.83,-0.06, 5.94,-0.06, 6.04,-0.07, 6.14,-0.06, 6.25,-0.06,
  6.35,-0.05, 6.43,-0.05, 6.61,-0.06,
  3.81,-0.04, 3.88,-0.06, 3.96,-0.09, 4.04,-0.06, 4.14,-0.09, 4.22,-0.06, 4.30,-0.09, 4.38,-0.06, 4.46,-0.09, 4.53,-0.06,
  4.61,-0.09, 4.69,-0.06, 4.77,-0.04, 4.87,-0.06, 4.95,-0.04, 5.05,-0.05, 5.16,-0.03, 5.26,-0.05, 5.36,-0.03, 5.47,-0.04,
  5.57,-0.03, 5.67,-0.04, 5.78,-0.02, 5.88,-0.04, 5.99,-0.03, 6.09,-0.04, 6.20,-0.03,
  3.86,0.04, 4.01,0.02, 4.12,0.05, 4.22,0.03, 4.33,0.06, 4.43,0.03, 4.53,0.06, 4.64,0.03, 4.74,0.06, 4.85,0.03, 4.95,0.06,
  5.05,0.03, 5.16,0.06, 5.26,0.04, 5.36,0.06, 5.47,0.03, 5.57,0.06, 5.67,0.03, 5.78,0.05, 5.88,0.03, 5.99,0.04, 6.09,0.02,
  6.20,0.04,
  3.92,-0.01, 4.08,-0.02, 4.26,0.00, 4.41,-0.02, 4.58,0.00, 4.72,-0.01, 4.90,0.00, 5.08,-0.01, 5.22,0.00, 5.40,-0.01,
  5.60,0.00, 5.75,-0.01, 5.95,0.00, 6.12,-0.01, 6.30,-0.02, 4.00,-0.12, 4.18,-0.13, 4.35,-0.12, 4.58,-0.12, 5.00,-0.08,
  5.15,-0.06, 5.45,-0.06, 5.70,-0.05, 6.00,-0.05, 6.25,-0.04,
  3.78,-0.08, 3.84,-0.13, 3.86,-0.02, 3.92,-0.11, 3.94,0.02, 4.00,-0.16, 4.02,-0.03, 4.06,-0.10, 4.10,0.01, 4.12,-0.17,
  4.16,-0.04, 4.20,-0.11, 4.24,0.03, 4.28,-0.05, 4.33,-0.11, 4.36,0.02, 4.40,-0.04, 4.45,-0.13, 4.49,0.03, 4.52,-0.03,
  4.56,-0.10, 4.60,0.02, 4.64,-0.07, 4.67,0.04, 4.72,-0.05, 4.76,0.01, 4.80,-0.11, 4.84,0.07, 4.88,-0.03, 4.92,0.04,
  4.97,-0.07, 5.01,0.00, 5.05,0.08, 5.09,-0.04, 5.12,0.02, 5.18,-0.07, 5.21,0.05, 5.25,-0.02, 5.30,0.08, 5.33,-0.06,
  5.38,0.01, 5.42,0.05, 5.45,-0.03, 5.50,0.01, 5.53,-0.05, 5.58,0.04, 5.63,-0.02, 5.66,0.07, 5.70,-0.03, 5.74,0.02,
  5.80,-0.05, 5.83,0.06, 5.86,-0.02, 5.92,0.01, 5.96,-0.05, 6.01,0.01, 6.07,-0.02, 6.11,-0.06, 6.16,0.01, 6.22,-0.05,
  6.28,-0.02, 6.33,-0.04, 6.38,-0.01, 3.70,0.05, 3.77,0.12, 3.84,0.09, 3.97,0.12, 4.10,0.10, 4.20,0.08, 4.26,0.12,
  4.36,0.09, 4.48,0.08, 4.55,0.12, 4.70,0.09, 4.92,0.09, 5.09,0.08, 5.20,0.11, 5.31,0.14, 5.43,0.12, 5.57,0.11, 5.69,0.12,
  5.80,0.08, 5.93,0.09, 6.11,0.05, 6.25,0.07,
];
const cBlueCore = [
  3.55,-0.10, 3.62,-0.12, 3.68,-0.08, 3.72,0.02, 3.75,-0.15, 3.80,-0.11, 3.83,0.05, 3.87,-0.15, 3.90,0.08, 3.94,-0.13,
  3.98,0.00, 4.02,-0.14, 4.05,0.05, 4.08,-0.09, 4.14,0.00, 4.18,-0.08, 4.22,0.06, 4.25,-0.14, 4.30,0.01, 4.34,-0.08,
  4.38,0.05, 4.42,-0.10, 4.46,0.00, 4.50,-0.08, 4.54,0.09, 4.58,-0.14, 4.62,-0.03, 4.65,0.10, 4.70,-0.10, 4.74,0.03,
  4.78,-0.07, 4.82,0.05, 4.86,-0.11, 4.90,0.02, 4.94,-0.05, 4.99,0.10, 5.03,-0.07, 5.07,0.05, 5.11,-0.02, 5.14,0.09,
  5.19,-0.04, 5.23,0.02, 5.28,-0.07, 5.32,0.04, 5.35,-0.08, 5.40,0.09, 5.44,-0.06, 5.48,0.05, 5.52,-0.02, 5.56,0.08,
  5.61,-0.05, 5.65,0.00, 5.70,0.07, 5.72,-0.06, 5.77,0.03, 5.82,-0.03, 5.87,0.06, 5.90,-0.06, 5.95,0.03, 6.00,-0.02,
  6.05,0.05, 6.08,-0.07, 6.13,0.03, 6.18,-0.06, 6.23,0.01, 6.27,-0.07, 6.35,0.01, 6.40,-0.03,
];

const dRed = [
  3.88,0.47, 3.99,0.46, 3.87,0.42, 3.27,0.38, 3.52,0.38, 3.79,0.39, 3.95,0.38, 4.02,0.38, 4.54,0.38, 4.76,0.34, 5.03,0.35,
  5.12,0.32, 4.81,0.31, 5.05,0.30, 4.32,0.33, 4.28,0.30, 4.45,0.29, 4.53,0.29, 3.22,0.29, 3.59,0.29, 3.77,0.30, 3.85,0.30,
  4.05,0.30, 4.93,0.27, 5.55,0.25, 4.67,0.25, 4.50,0.25, 4.22,0.27, 4.14,0.25, 5.25,0.22, 4.91,0.25, 4.77,0.22, 3.81,0.23,
  3.74,0.21, 3.36,0.20, 3.32,0.15, 3.62,0.21, 4.83,0.16, 5.09,0.21, 5.63,0.17, 5.57,0.15, 5.86,0.14, 4.47,0.23, 4.03,0.22,
  4.29,0.24, 5.23,0.19, 5.15,0.17, 3.42,0.22, 3.70,0.26, 4.20,0.21, 4.60,0.20, 5.35,0.21, 5.75,0.12, 5.95,0.08,
  3.06,-0.11, 3.06,-0.15, 3.10,-0.16, 3.22,-0.19, 3.27,-0.22, 3.26,-0.16, 3.30,-0.16, 3.33,-0.18, 3.18,-0.16, 3.48,-0.16,
  3.47,-0.21, 3.49,-0.19, 3.53,-0.18, 3.56,-0.21, 3.58,-0.15, 3.59,-0.18, 3.66,-0.17, 3.70,-0.17, 3.77,-0.25, 3.80,-0.19,
  3.82,-0.21, 3.85,-0.25, 3.89,-0.25, 3.86,-0.23, 3.89,-0.17, 3.93,-0.18, 3.96,-0.20, 3.98,-0.15, 4.03,-0.22, 4.07,-0.23,
  4.16,-0.21, 4.18,-0.17, 4.24,-0.16, 4.29,-0.20, 4.33,-0.19, 4.37,-0.21, 4.42,-0.21, 4.52,-0.20, 4.60,-0.20, 4.68,-0.20,
  4.73,-0.15, 4.77,-0.19, 4.82,-0.19, 4.89,-0.18, 4.89,-0.15, 4.96,-0.17, 5.04,-0.18, 5.09,-0.14, 5.14,-0.16, 5.20,-0.18,
  5.30,-0.15, 5.33,-0.17, 5.45,-0.16, 5.48,-0.16, 5.56,-0.16, 5.63,-0.12, 5.71,-0.12, 5.91,-0.14, 5.94,-0.15, 6.18,-0.16,
  6.22,-0.16, 6.20,-0.15, 6.15,-0.07, 6.07,-0.07, 5.92,-0.05, 5.88,-0.12, 5.79,-0.11, 5.71,-0.05, 6.02,0.02, 6.07,0.02,
  5.43,-0.11, 4.95,-0.15, 4.63,-0.13, 4.37,-0.13, 4.19,-0.14, 4.09,-0.15, 3.93,-0.16, 3.65,-0.15, 3.40,-0.17, 3.75,-0.20,
  4.12,-0.19, 4.45,-0.18, 4.58,-0.17, 5.25,-0.16, 5.60,-0.14, 5.99,-0.14, 6.12,-0.13,
];
const dGreen = [
  3.99,0.37, 4.10,0.36, 4.14,0.34, 3.90,0.34, 4.27,0.32, 4.40,0.30, 3.37,0.28, 3.25,0.17, 3.32,0.19, 3.55,0.20, 3.62,0.25,
  3.63,0.28, 3.73,0.31, 3.89,0.29, 3.97,0.32, 4.06,0.29, 4.18,0.29, 4.14,0.28, 4.47,0.28, 4.61,0.28, 4.69,0.30, 4.64,0.25,
  4.43,0.25, 4.35,0.24, 4.86,0.23, 4.95,0.25, 5.13,0.25, 4.76,0.24, 5.24,0.22, 4.91,0.20, 4.99,0.21, 5.45,0.19, 5.64,0.15,
  5.74,0.12, 5.83,0.07, 5.99,0.03, 6.09,0.01, 3.78,0.19, 3.92,0.21, 3.88,0.17, 4.01,0.18, 4.66,0.18, 4.55,0.21, 5.08,0.13,
  5.44,0.17, 5.16,0.15, 5.40,0.12, 3.21,0.03, 3.44,0.15, 3.56,0.05, 3.42,0.08, 3.60,0.16, 3.82,0.24, 4.05,0.24, 4.22,0.21,
  4.50,0.17, 4.80,0.19, 5.05,0.18, 5.32,0.16, 5.55,0.14, 5.78,0.10, 5.90,0.04, 4.30,0.18, 4.70,0.15,
  3.01,-0.08, 3.06,-0.04, 3.14,-0.06, 3.19,-0.14, 3.26,-0.11, 3.39,-0.13, 3.45,-0.15, 3.54,-0.13, 3.62,-0.11, 3.68,-0.17,
  3.78,-0.16, 3.81,-0.16, 3.89,-0.15, 3.99,-0.15, 4.05,-0.12, 4.11,-0.10, 4.21,-0.13, 4.32,-0.14, 4.43,-0.14, 4.54,-0.13,
  4.60,-0.11, 4.71,-0.12, 4.85,-0.12, 4.96,-0.11, 5.03,-0.12, 5.20,-0.12, 5.30,-0.13, 5.49,-0.11, 5.58,-0.11, 5.73,-0.13,
  5.78,-0.13, 5.82,-0.12, 6.05,-0.14, 6.14,-0.15, 6.18,-0.09, 6.10,-0.06, 6.00,-0.04, 5.92,-0.07, 5.69,-0.07, 5.07,-0.09,
  4.83,-0.09, 4.78,-0.10, 4.45,-0.09, 4.03,-0.09, 3.52,-0.09, 3.35,-0.08, 3.17,-0.10, 3.30,-0.07, 3.48,-0.12, 3.60,-0.14,
  3.72,-0.12, 3.85,-0.13, 3.95,-0.12, 4.15,-0.12, 4.26,-0.11, 4.38,-0.10, 4.50,-0.11, 4.66,-0.10, 4.90,-0.10, 5.12,-0.11,
  5.38,-0.12, 5.62,-0.10, 5.87,-0.09,
];
const dBlue = [
  5.31,0.33, 4.09,0.33, 5.24,0.26, 5.62,0.22, 4.58,0.26, 3.98,0.26, 3.95,0.24, 4.34,0.25, 4.24,0.23, 4.18,0.22, 4.29,0.23,
  4.64,0.23, 4.73,0.19, 4.96,0.17, 5.03,0.21, 5.58,0.19, 5.58,0.17, 5.35,0.17, 5.45,0.18, 5.21,0.18, 3.50,0.16, 3.32,0.11,
  3.32,0.06, 3.23,0.01, 3.70,0.18, 3.94,0.23, 4.09,0.20, 4.24,0.15, 4.45,0.15, 4.53,0.19, 4.76,0.14, 4.96,0.11, 5.20,0.15,
  5.33,0.14, 5.47,0.12, 5.61,0.13, 5.76,0.11, 5.79,0.13, 6.02,0.07, 5.84,0.04, 5.66,0.08, 5.56,0.03, 5.12,0.09, 4.91,0.07,
  4.60,0.09, 4.34,0.08, 4.14,0.11, 3.93,0.11, 3.75,0.13, 3.62,0.12, 3.52,0.08, 3.39,0.04, 3.65,0.05, 3.85,0.06, 4.03,0.03,
  4.24,0.05, 4.45,0.04, 4.65,0.06, 4.81,0.03, 5.02,0.04, 5.22,0.05, 5.40,0.05, 5.71,0.03, 5.96,-0.01, 3.83,0.15, 3.88,0.11,
  4.03,0.15, 4.06,0.09, 4.19,0.13, 4.29,0.11, 4.40,0.13, 4.14,0.19, 4.03,0.19,
  2.97,-0.02, 2.99,-0.05, 3.05,-0.02, 3.01,-0.10, 3.10,-0.03, 3.08,-0.12, 3.14,-0.09, 3.18,-0.11, 3.23,-0.08, 3.28,-0.05,
  3.34,-0.11, 3.41,-0.07, 3.49,-0.11, 3.52,-0.03, 3.59,-0.07, 3.66,-0.13, 3.75,-0.14, 3.75,-0.09, 3.83,-0.11, 3.89,-0.10,
  3.96,-0.11, 3.93,-0.05, 4.03,-0.08, 4.14,-0.11, 4.21,-0.05, 4.29,-0.09, 4.37,-0.11, 4.45,-0.07, 4.52,-0.09, 4.60,-0.05,
  4.68,-0.08, 4.76,-0.10, 4.83,-0.07, 4.91,-0.09, 4.99,-0.05, 5.07,-0.08, 5.14,-0.09, 5.22,-0.06, 5.30,-0.09, 5.38,-0.11,
  5.45,-0.07, 5.53,-0.09, 5.61,-0.07, 5.69,-0.09, 5.74,-0.11, 5.89,-0.09, 5.92,-0.03, 6.04,-0.03, 6.06,-0.05, 6.00,-0.09,
  6.10,-0.11, 6.15,-0.12, 6.19,-0.10,
  3.57,0.01, 3.70,-0.02, 3.80,0.01, 3.90,-0.01, 4.01,0.00, 4.11,-0.02, 4.21,0.01, 4.32,-0.01, 4.42,0.01, 4.52,-0.02,
  4.63,0.01, 4.73,-0.01, 4.83,0.01, 4.94,-0.02, 5.04,0.01, 5.14,-0.01, 5.25,0.01, 5.35,-0.02, 5.45,0.01, 5.56,-0.01,
  5.66,0.01, 5.76,-0.02,
  3.30,-0.02, 3.36,-0.08, 3.42,0.02, 3.46,-0.05, 3.55,-0.10, 3.58,0.04, 3.62,-0.03, 3.68,0.09, 3.72,-0.06, 3.78,0.04,
  3.82,-0.03, 3.86,0.08, 3.91,-0.07, 3.98,0.06, 4.00,-0.12, 4.07,0.05, 4.09,-0.05, 4.17,0.03, 4.19,-0.09, 4.26,0.09,
  4.27,-0.03, 4.35,0.03, 4.40,-0.06, 4.48,0.08, 4.50,-0.03, 4.57,0.05, 4.62,-0.10, 4.70,0.02, 4.72,-0.05, 4.78,0.09,
  4.86,-0.04, 4.88,0.06, 4.95,-0.08, 4.99,0.08, 5.05,-0.04, 5.09,0.03, 5.17,-0.05, 5.18,0.08, 5.26,-0.03, 5.28,0.10,
  5.33,-0.06, 5.37,0.03, 5.42,-0.10, 5.47,0.06, 5.50,-0.04, 5.53,0.09, 5.58,-0.06, 5.63,0.04, 5.68,-0.03, 5.73,0.06,
  5.80,-0.06, 5.85,0.01, 5.88,-0.03, 5.95,-0.05, 6.08,-0.08, 6.12,-0.05, 3.70,0.11, 3.80,0.14, 3.90,0.16, 4.00,0.12,
  4.10,0.15, 4.22,0.18, 4.35,0.16, 4.50,0.12, 4.67,0.13, 4.85,0.11, 5.00,0.14, 5.15,0.13, 5.28,0.13, 5.40,0.10, 5.55,0.12,
  5.70,0.10, 3.45,0.10, 3.58,0.14,
];
const dBlueCore = [
  3.27,-0.10, 3.33,0.00, 3.38,-0.04, 3.44,-0.09, 3.48,0.05, 3.53,-0.06, 3.56,0.10, 3.60,-0.09, 3.64,0.08, 3.67,-0.05,
  3.71,0.04, 3.74,-0.12, 3.77,0.08, 3.80,-0.08, 3.84,0.12, 3.87,-0.04, 3.92,0.07, 3.95,-0.09, 3.99,0.14, 4.02,-0.04,
  4.05,0.09, 4.08,-0.12, 4.12,0.05, 4.16,-0.07, 4.20,0.11, 4.23,-0.02, 4.27,0.14, 4.31,-0.07, 4.34,0.05, 4.38,-0.10,
  4.42,0.09, 4.46,-0.03, 4.50,0.06, 4.55,-0.08, 4.58,0.11, 4.62,0.03, 4.66,-0.06, 4.70,0.08, 4.75,-0.03, 4.80,0.06,
  4.84,-0.10, 4.88,0.09, 4.92,-0.02, 4.97,0.05, 5.01,-0.08, 5.06,0.08, 5.10,-0.04, 5.13,0.12, 5.18,-0.08, 5.22,0.02,
  5.26,0.08, 5.30,-0.05, 5.34,0.06, 5.39,-0.03, 5.43,0.09, 5.48,-0.08, 5.52,0.05, 5.56,-0.04, 5.60,0.10, 5.65,-0.07,
  5.68,0.04, 5.72,-0.08, 5.77,0.07, 5.82,-0.02, 5.86,-0.08, 5.93,0.00, 5.98,-0.06, 6.03,-0.10, 6.16,-0.08,
];

const seriesNames = ["nonT-MSE", "Zeng Model", "T-MSE Model"];
const panelTags = ["a", "b", "c", "d"];
const xRanges = [[3, 7], [3, 6.5], [3, 7], [2.5, 6.5]];
const yRanges = [[-0.4, 0.4], [-0.4, 0.6], [-0.4, 0.42], [-0.4, 0.6]];

const FONT = '"Liberation Sans", Arial, Helvetica, sans-serif';
const SERIF = '"Liberation Serif", "Times New Roman", serif';
const AX = "#262626";
const GRIDC = "#dedede";
const EDGE = "#111111";
const RED = "#ff3030";
const GREEN = "#2ee82e";
const BLUE = "#3030f5";

const toPairs = (flat: number[]) => {
  const out: number[][] = [];
  for (let i = 0; i + 1 < flat.length; i += 2) out.push([flat[i], flat[i + 1]]);
  return out;
};

const panelData = [
  [aRed, aGreen, aBlue.concat(aBlueCore)],
  [bRed, bGreen, bBlue.concat(bBlueCore)],
  [cRed, cGreen, cBlue.concat(cBlueCore)],
  [dRed, dGreen, dBlue.concat(dBlueCore)],
];

// pixel boxes of the four axes on the 4051x2135 page
const boxes = [
  { left: 181, top: 81, width: 1654, height: 659 },
  { left: 2375, top: 84, width: 1622, height: 650 },
  { left: 190, top: 1159, width: 1631, height: 653 },
  { left: 2368, top: 1155, width: 1638, height: 656 },
];
const tagPos = [
  [968, 1003],
  [3147, 1003],
  [966, 2072],
  [3146, 2068],
];

function buildOption() {
  const grid: any[] = [];
  const xAxis: any[] = [];
  const yAxis: any[] = [];
  const series: any[] = [];
  const title: any[] = [];
  const graphic: any[] = [];

  const line = { show: true, onZero: false, lineStyle: { color: AX, width: 4 } };
  const tick = { show: true, inside: true, length: 18, lineStyle: { color: AX, width: 3 } };
  const labelBase = { fontSize: 50, fontWeight: "bold", color: AX, fontFamily: FONT };

  boxes.forEach((b, i) => {
    grid.push({ ...b, containLabel: false });
    const [x0, x1] = xRanges[i];
    const [y0, y1] = yRanges[i];

    xAxis.push({
      gridIndex: i, type: "value", min: x0, max: x1, interval: 0.5, position: "bottom",
      axisLine: line, axisTick: tick,
      axisLabel: { ...labelBase, margin: 24 },
      splitLine: { show: true, lineStyle: { color: GRIDC, width: 3 } },
    });
    xAxis.push({
      gridIndex: i, type: "value", min: x0, max: x1, interval: 0.5, position: "top",
      axisLine: line, axisTick: tick, axisLabel: { show: false }, splitLine: { show: false },
    });
    yAxis.push({
      gridIndex: i, type: "value", min: y0, max: y1, interval: 0.2, position: "left",
      axisLine: line, axisTick: tick,
      axisLabel: { ...labelBase, margin: 16, showMaxLabel: i !== 2 },
      splitLine: { show: true, lineStyle: { color: GRIDC, width: 3 } },
      name: "Log Space Residuals", nameLocation: "middle", nameGap: 112,
      nameTextStyle: { fontSize: 52, fontWeight: "bold", color: AX, fontFamily: FONT },
    });
    yAxis.push({
      gridIndex: i, type: "value", min: y0, max: y1, interval: 0.2, position: "right",
      axisLine: line, axisTick: tick, axisLabel: { show: false }, splitLine: { show: false },
    });

    const [red, green, blue] = panelData[i];
    const common = { type: "scatter", xAxisIndex: 2 * i, yAxisIndex: 2 * i, silent: true };
    series.push({
      ...common, name: seriesNames[0], data: toPairs(red), symbol: "rect", symbolSize: 15, z: 2,
      itemStyle: { color: RED, borderColor: EDGE, borderWidth: 2, opacity: 1 },
    });
    series.push({
      ...common, name: seriesNames[1], data: toPairs(green), symbol: "triangle", symbolSize: 19, z: 3,
      itemStyle: { color: GREEN, borderColor: EDGE, borderWidth: 2, opacity: 1 },
    });
    series.push({
      ...common, name: seriesNames[2], data: toPairs(blue), symbol: "circle", symbolSize: 18, z: 4,
      itemStyle: { color: BLUE, borderColor: EDGE, borderWidth: 2, opacity: 1 },
    });
    // zero reference line drawn over the markers
    series.push({
      type: "line", name: "zero", xAxisIndex: 2 * i, yAxisIndex: 2 * i, silent: true, z: 6,
      data: [[x0, 0], [x1, 0]], showSymbol: false, symbol: "none",
      lineStyle: { color: "rgba(70,70,70,0.75)", width: 5 },
    });

    const cx = b.left + b.width / 2;
    title.push({
      text: "Residual Analysis of Different Models",
      left: cx, top: b.top - 62, textAlign: "center",
      textStyle: { fontSize: 52, fontWeight: "bold", color: "#000", fontFamily: FONT },
    });

    const ny = b.top + b.height + 118;
    graphic.push({
      type: "text", x: cx + 199, y: ny, silent: true,
      style: { text: "Predicted Value (log", fill: AX, fontSize: 52, fontWeight: "bold", fontFamily: FONT, align: "right", verticalAlign: "middle" },
    });
    graphic.push({
      type: "text", x: cx + 200, y: ny + 32, silent: true,
      style: { text: "10", fill: AX, fontSize: 33, fontWeight: "bold", fontFamily: FONT, align: "left", verticalAlign: "middle" },
    });
    graphic.push({
      type: "text", x: cx + 240, y: ny, silent: true,
      style: { text: "P)", fill: AX, fontSize: 52, fontWeight: "bold", fontFamily: FONT, align: "left", verticalAlign: "middle" },
    });
    graphic.push({
      type: "text", x: tagPos[i][0], y: tagPos[i][1], silent: true,
      style: {
        text: `{p|(}{b|${panelTags[i]}}{p|)}`, fill: "#000", align: "center", verticalAlign: "middle",
        rich: {
          p: { fontSize: 76, fontFamily: SERIF, fill: "#000" },
          b: { fontSize: 76, fontFamily: SERIF, fontWeight: "bold", fill: "#000" },
        },
      },
    });
  });

  return {
    animation: false,
    backgroundColor: "#ffffff",
    title,
    grid,
    xAxis,
    yAxis,
    legend: {
      data: seriesNames,
      orient: "vertical",
      left: 1408,
      top: 520,
      padding: [8, 22, 8, 28],
      itemGap: 4,
      itemWidth: 13,
      itemHeight: 13,
      backgroundColor: "#ffffff",
      borderColor: AX,
      borderWidth: 3,
      borderRadius: 0,
      selectedMode: false,
      textStyle: { fontSize: 50, fontWeight: "bold", color: "#000", fontFamily: FONT, lineHeight: 62, padding: [0, 0, 0, 20] },
      z: 20,
    },
    graphic,
    series,
  };
}

export default function App() {
  const ref = useRef<HTMLDivElement>(null);

  useEffect(() => {
    const el = ref.current;
    if (!el) return;
    const chart = echarts.init(el, undefined, { renderer: "svg" });
    chart.setOption(buildOption() as any);
    return () => chart.dispose();
  }, []);

  return (
    <div
      ref={ref}
      style={{ position: "absolute", left: 0, top: 0, width: 4051, height: 2135, background: "#fff" }}
    />
  );
}
